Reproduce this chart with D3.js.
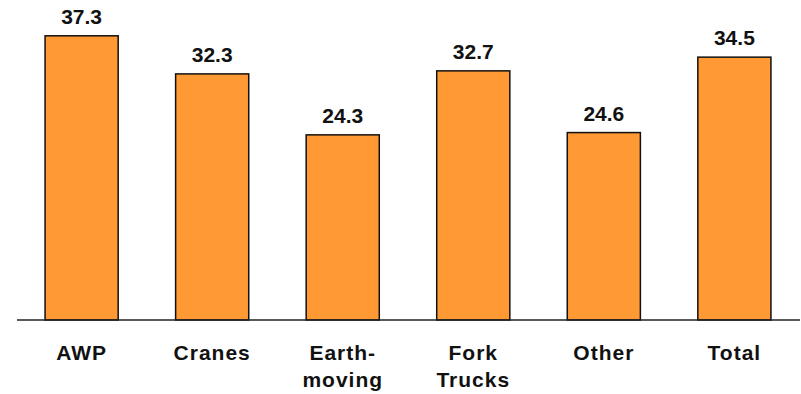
<!DOCTYPE html>
<html>
<head>
<meta charset="utf-8">
<script src="https://cdn.jsdelivr.net/npm/d3@7"></script>
<style>
  html, body { margin: 0; padding: 0; background: #fff; }
  svg { display: block; }
</style>
</head>
<body>
<svg id="chart" width="801" height="394"></svg>
<script>
// Categories (each entry is the lines of its axis label) and values
const categories = ["AWP", "Cranes", "Earth-moving", "Fork Trucks", "Other", "Total"];
const categoryLines = [["AWP"], ["Cranes"], ["Earth-", "moving"], ["Fork", "Trucks"], ["Other"], ["Total"]];
const values = [37.3, 32.3, 24.3, 32.7, 24.6, 34.5];
const valueLabels = ["37.3", "32.3", "24.3", "32.7", "24.6", "34.5"];

const svg = d3.select("#chart");
const baseY = 320;

const x = d3.scaleBand()
  .domain(categories)
  .range([17, 799])
  .paddingInner(0.44)
  .paddingOuter(0.215);

const y = d3.scaleLinear()
  .domain([0, 42])
  .range([baseY, 0]);

const font = "'Liberation Sans', Arial, Helvetica, sans-serif";

// Bars
svg.append("g")
  .selectAll("rect")
  .data(values)
  .join("rect")
  .attr("x", (d, i) => x(categories[i]))
  .attr("y", d => y(d))
  .attr("width", x.bandwidth())
  .attr("height", d => baseY - y(d))
  .attr("fill", "#FF9933")
  .attr("stroke", "#111")
  .attr("stroke-width", 1.5);

// Value labels above bars
svg.append("g")
  .selectAll("text")
  .data(values)
  .join("text")
  .attr("x", (d, i) => x(categories[i]) + x.bandwidth() / 2)
  .attr("y", d => y(d) - 12)
  .attr("text-anchor", "middle")
  .attr("font-family", font)
  .attr("font-weight", "bold")
  .attr("font-size", 21)
  .attr("fill", "#111")
  .text((d, i) => valueLabels[i]);

// Baseline axis with category labels
const axis = d3.axisBottom(x).tickSize(0).tickFormat(() => "");
const axisG = svg.append("g")
  .attr("transform", `translate(0,${baseY})`)
  .call(axis);
axisG.select(".domain")
  .attr("d", "M17,0H800")
  .attr("stroke", "#222")
  .attr("stroke-width", 1.5);

axisG.selectAll(".tick").each(function(d, i) {
  const t = d3.select(this).select("text")
    .attr("y", 0)
    .attr("dy", null)
    .attr("font-family", font)
    .attr("font-weight", "bold")
    .attr("font-size", 21)
    .attr("letter-spacing", 1)
    .attr("fill", "#111")
    .attr("text-anchor", "middle");
  t.text(null);
  categoryLines[i].forEach((line, j) => {
    t.append("tspan")
      .attr("x", 0)
      .attr("y", 40 + j * 27)
      .text(line);
  });
});
</script>
</body>
</html>
